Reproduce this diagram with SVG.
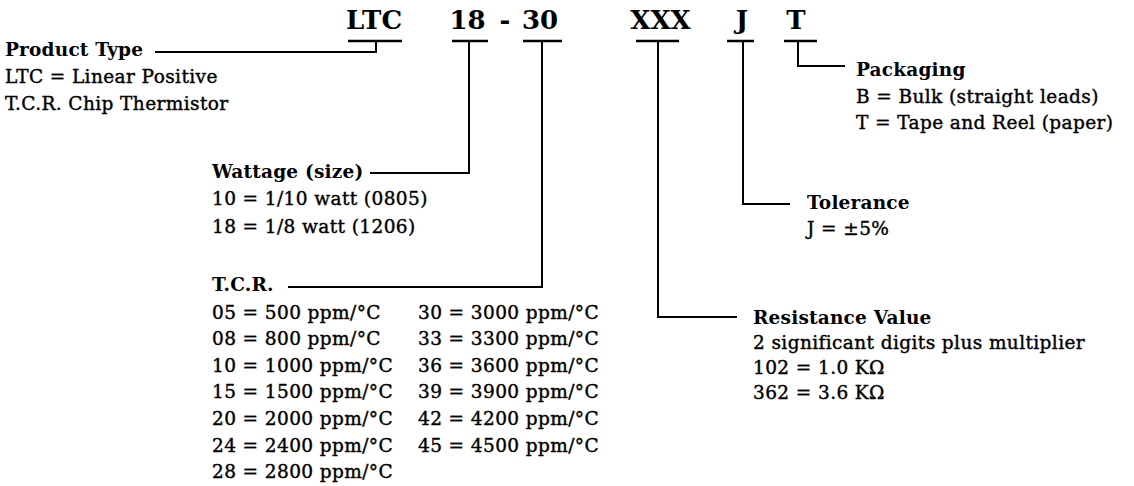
<svg xmlns="http://www.w3.org/2000/svg" width="1134" height="486" viewBox="0 0 1134 486">
<style>
text{font-family:"DejaVu Serif","Liberation Serif",serif;fill:#000}
.code{font-size:26px;font-weight:bold;text-anchor:middle}
.h{font-size:18.5px;font-weight:bold;letter-spacing:0.2px}
.b{font-size:18.5px;letter-spacing:0.4px;stroke:#000;stroke-width:0.4}
.ln{fill:none;stroke:#000;stroke-width:2}
.bar{fill:none;stroke:#000;stroke-width:2.5}
</style>
<rect width="1134" height="486" fill="#fff"/>
<g id="code">
<text class="code" x="374" y="29">LTC</text>
<text class="code" x="467.5" y="29">18</text>
<text class="code" x="505" y="29">-</text>
<text class="code" x="540" y="29">30</text>
<text class="code" x="660.5" y="29">XXX</text>
<text class="code" x="742" y="29">J</text>
<text class="code" x="796" y="29">T</text>
</g>
<g id="connectors">
<path class="bar" d="M348,41H402M452,41H488M523,41H562M636,41H679M727,41H754M784,41H817"/>
<path class="ln" d="M376,41V52H155"/>
<path class="ln" d="M469,41V173H370"/>
<path class="ln" d="M542,41V287H288"/>
<path class="ln" d="M658,41V317H737"/>
<path class="ln" d="M743,41V204H790"/>
<path class="ln" d="M798,41V66H845"/>
</g>
<g id="product-type">
<text class="h" x="5" y="56">Product Type</text>
<text class="b" x="5" y="83">LTC = Linear Positive</text>
<text class="b" x="5" y="110">T.C.R. Chip Thermistor</text>
</g>
<g id="wattage">
<text class="h" x="212" y="178">Wattage (size)</text>
<text class="b" x="212" y="205">10 = 1/10 watt (0805)</text>
<text class="b" x="212" y="233">18 = 1/8 watt (1206)</text>
</g>
<g id="tcr">
<text class="h" x="212" y="291">T.C.R.</text>
<text class="b" x="212" y="319">05 = 500 ppm/°C</text>
<text class="b" x="212" y="345">08 = 800 ppm/°C</text>
<text class="b" x="212" y="372">10 = 1000 ppm/°C</text>
<text class="b" x="212" y="398">15 = 1500 ppm/°C</text>
<text class="b" x="212" y="425">20 = 2000 ppm/°C</text>
<text class="b" x="212" y="452">24 = 2400 ppm/°C</text>
<text class="b" x="212" y="478">28 = 2800 ppm/°C</text>
<text class="b" x="418" y="319">30 = 3000 ppm/°C</text>
<text class="b" x="418" y="345">33 = 3300 ppm/°C</text>
<text class="b" x="418" y="372">36 = 3600 ppm/°C</text>
<text class="b" x="418" y="398">39 = 3900 ppm/°C</text>
<text class="b" x="418" y="425">42 = 4200 ppm/°C</text>
<text class="b" x="418" y="452">45 = 4500 ppm/°C</text>
</g>
<g id="resistance">
<text class="h" x="753" y="324">Resistance Value</text>
<text class="b" x="753" y="349">2 significant digits plus multiplier</text>
<text class="b" x="753" y="374">102 = 1.0 KΩ</text>
<text class="b" x="753" y="399">362 = 3.6 KΩ</text>
</g>
<g id="tolerance">
<text class="h" x="807" y="209">Tolerance</text>
<text class="b" x="807" y="235">J = ±5%</text>
</g>
<g id="packaging">
<text class="h" x="856" y="76">Packaging</text>
<text class="b" x="856" y="103">B = Bulk (straight leads)</text>
<text class="b" x="856" y="129">T = Tape and Reel (paper)</text>
</g>
</svg>
